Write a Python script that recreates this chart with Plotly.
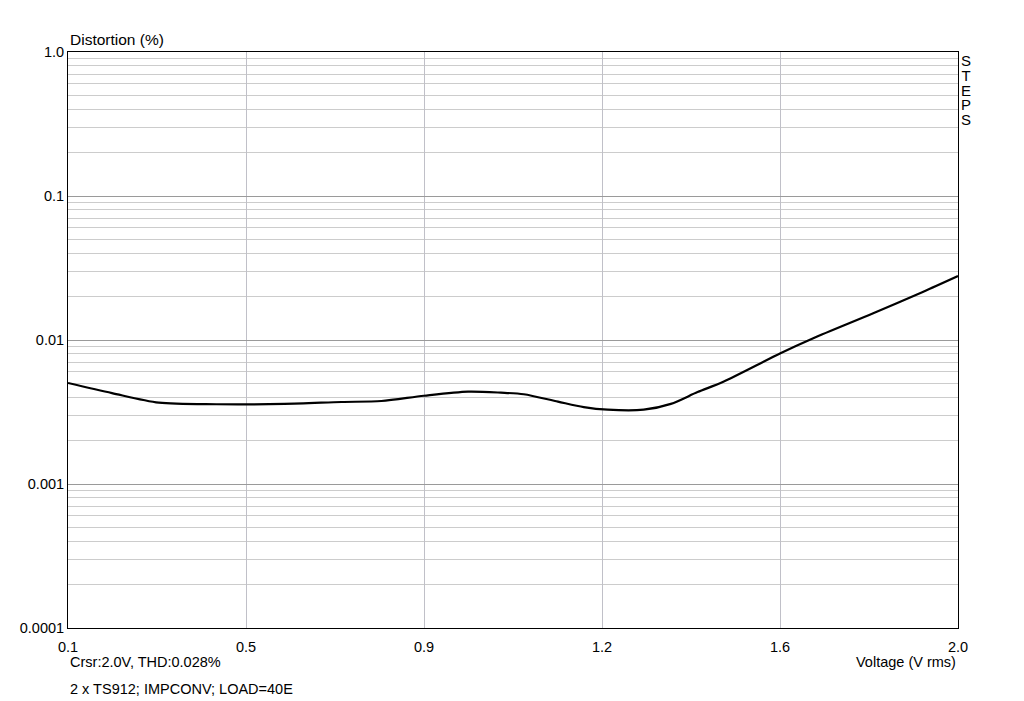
import plotly.graph_objects as go

voltage = [0.100, 0.194, 0.294, 0.417, 0.562, 0.684, 0.769, 0.860, 0.954, 1.024,
           1.073, 1.146, 1.201, 1.252, 1.329, 1.387, 1.444, 1.499, 1.621, 1.691,
           1.819, 1.926, 2.000]
distortion = [0.00503, 0.00428, 0.00367, 0.00358, 0.00360, 0.00371, 0.00377, 0.00410,
              0.00438, 0.00431, 0.00420, 0.00373, 0.00342, 0.00328, 0.00328, 0.00360,
              0.00435, 0.00513, 0.00809, 0.01028, 0.01532, 0.02164, 0.0278]

x_tickvals = [0.1, 0.48, 0.86, 1.24, 1.62, 2.0]
x_ticktext = ["0.1", "0.5", "0.9", "1.2", "1.6", "2.0"]
y_tickvals = [0.0001, 0.001, 0.01, 0.1, 1.0]
y_ticktext = ["0.0001", "0.001", "0.01", "0.1", "1.0"]
side_letters = ["S", "T", "E", "P", "S"]

FAM = "Liberation Sans, Arial, sans-serif"
font = dict(family=FAM, size=14.5, color="black")

fig = go.Figure()
fig.add_trace(go.Scatter(x=voltage, y=distortion, mode="lines",
                         line=dict(color="black", width=2.2, shape="spline", smoothing=0.8),
                         hoverinfo="skip", showlegend=False))

fig.update_layout(
    width=1008, height=693,
    margin=dict(l=58, r=58, t=44, b=73),
    paper_bgcolor="white", plot_bgcolor="white",
    font=font,
    xaxis=dict(range=[0.1, 2.0], tickvals=x_tickvals, ticktext=x_ticktext,
               showgrid=True, gridcolor="#c0c0c8", gridwidth=1,
               showline=True, linecolor="black", linewidth=1, mirror=True,
               ticks="", zeroline=False, tickfont=font, ticklabelstandoff=6),
    yaxis=dict(type="log", range=[-4, 0], tickvals=y_tickvals, ticktext=y_ticktext,
               showgrid=True, gridcolor="#9a9a9a", gridwidth=1,
               showline=True, linecolor="black", linewidth=1, mirror=True,
               ticks="", zeroline=False, tickfont=font,
               minor=dict(dtick="D1", showgrid=True, gridcolor="#cccccc", gridwidth=1, ticks="")),
)

fig.add_annotation(x=0, y=1, xref="paper", yref="paper", xanchor="left", yanchor="bottom",
                   text="Distortion (%)", showarrow=False, font=dict(family=FAM, size=15.5), yshift=2, xshift=0)
for i, letter in enumerate(side_letters):
    fig.add_annotation(x=1, y=1, xref="paper", yref="paper", xanchor="center", yanchor="middle",
                       text=letter, showarrow=False, xshift=8, yshift=-8 - 14.8 * i,
                       height=14, width=12, borderpad=0, valign="middle",
                       font=dict(family=FAM, size=15))
fig.add_annotation(x=0, y=0, xref="paper", yref="paper", xanchor="left", yanchor="top",
                   text="Crsr:2.0V, THD:0.028%", showarrow=False, yshift=-24, font=font)
fig.add_annotation(x=0, y=0, xref="paper", yref="paper", xanchor="left", yanchor="top",
                   text="2 x TS912; IMPCONV; LOAD=40E", showarrow=False, yshift=-51, font=font)
fig.add_annotation(x=1, y=0, xref="paper", yref="paper", xanchor="right", yanchor="top",
                   text="Voltage (V rms)", showarrow=False, yshift=-24, font=font)

fig.write_html("out.html", post_script="document.body.style.overflow='hidden';")
